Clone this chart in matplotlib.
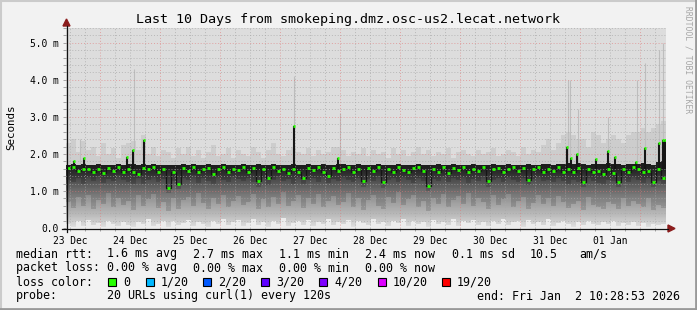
import datetime as dt

import matplotlib
matplotlib.use('Agg')
import matplotlib.pyplot as plt
import matplotlib.dates as mdates
import numpy as np
from matplotlib.colors import LinearSegmentedColormap
from matplotlib.patches import Rectangle, Polygon
from matplotlib.ticker import MultipleLocator, FuncFormatter, NullFormatter

plt.rcParams['font.family'] = 'DejaVu Sans Mono'

# smoke data, one value per 2 hour bucket starting Dec 23 10:28:53 (ms)
start = dt.datetime(2025, 12, 23, 10, 28, 53)
bucket_hours = 2

median = [1.62, 1.64, 1.55, 1.58, 1.58, 1.52, 1.60, 1.48, 1.63, 1.55, 1.66, 1.50,
          1.60, 1.52, 1.45, 1.62, 1.58, 1.64, 1.52, 1.60, 1.08, 1.50, 1.20, 1.62,
          1.55, 1.66, 1.50, 1.60, 1.63, 1.47, 1.58, 1.66, 1.52, 1.60, 1.56, 1.64,
          1.50, 1.62, 1.27, 1.58, 1.35, 1.64, 1.55, 1.60, 1.48, 1.60, 1.52, 1.35,
          1.62, 1.56, 1.65, 1.50, 1.40, 1.62, 1.55, 1.58, 1.66, 1.52, 1.60, 1.27,
          1.63, 1.55, 1.66, 1.24, 1.60, 1.52, 1.64, 1.57, 1.50, 1.62, 1.66, 1.55,
          1.13, 1.60, 1.52, 1.65, 1.48, 1.62, 1.57, 1.64, 1.50, 1.60, 1.55, 1.66,
          1.27, 1.58, 1.63, 1.50, 1.60, 1.66, 1.54, 1.62, 1.30, 1.58, 1.64, 1.52,
          1.60, 1.55, 1.65, 1.50, 1.60, 1.50, 1.62, 1.24, 1.60, 1.52, 1.55, 1.45,
          1.60, 1.48, 1.24, 1.60, 1.50, 1.64, 1.60, 1.52, 1.55, 1.24, 1.58, 1.35]

# top of the dark smoke
upper = [1.71, 1.72, 1.70, 1.72, 1.71, 1.70, 1.72, 1.70, 1.71, 1.70, 1.72, 1.71,
         1.72, 1.73, 1.70, 1.73, 1.71, 1.72, 1.70, 1.71, 1.70, 1.71, 1.70, 1.72,
         1.71, 1.72, 1.70, 1.71, 1.72, 1.70, 1.71, 1.72, 1.70, 1.71, 1.70, 1.72,
         1.71, 1.70, 1.72, 1.71, 1.70, 1.72, 1.71, 1.70, 1.71, 1.73, 1.70, 1.71,
         1.72, 1.70, 1.71, 1.72, 1.70, 1.71, 1.72, 1.72, 1.70, 1.71, 1.72, 1.70,
         1.71, 1.70, 1.72, 1.71, 1.70, 1.71, 1.72, 1.70, 1.71, 1.70, 1.72, 1.71,
         1.70, 1.71, 1.72, 1.70, 1.71, 1.72, 1.70, 1.71, 1.70, 1.72, 1.71, 1.70,
         1.71, 1.72, 1.70, 1.71, 1.72, 1.70, 1.71, 1.70, 1.72, 1.71, 1.70, 1.72,
         1.72, 1.71, 1.73, 1.72, 1.76, 1.74, 1.75, 1.72, 1.71, 1.73, 1.74, 1.72,
         1.75, 1.74, 1.72, 1.71, 1.73, 1.72, 1.74, 1.76, 1.72, 1.71, 1.78, 1.80]

# bottom of the dark smoke
dark_low = [1.30, 1.25, 1.35, 1.20, 1.38, 1.28, 1.40, 1.22, 1.33, 1.26, 1.42, 1.30,
            1.24, 1.18, 1.35, 1.20, 1.30, 1.40, 1.25, 1.33, 0.95, 1.28, 1.05, 1.36,
            1.30, 1.42, 1.22, 1.35, 1.28, 1.20, 1.38, 1.30, 1.25, 1.40, 1.32, 1.27,
            1.35, 1.24, 1.10, 1.36, 1.15, 1.30, 1.40, 1.26, 1.33, 1.20, 1.38, 1.18,
            1.30, 1.36, 1.25, 1.40, 1.22, 1.32, 1.28, 1.38, 1.30, 1.24, 1.35, 1.10,
            1.33, 1.27, 1.40, 1.08, 1.30, 1.36, 1.25, 1.38, 1.30, 1.22, 1.35, 1.28,
            1.00, 1.32, 1.26, 1.40, 1.24, 1.35, 1.30, 1.38, 1.22, 1.33, 1.28, 1.40,
            1.12, 1.30, 1.36, 1.25, 1.38, 1.30, 1.24, 1.35, 1.15, 1.32, 1.40, 1.27,
            1.30, 1.24, 1.36, 1.28, 1.20, 1.30, 1.25, 1.10, 1.35, 1.28, 1.22, 1.18,
            1.30, 1.26, 1.10, 1.34, 1.25, 1.38, 1.30, 1.22, 1.35, 1.12, 1.28, 1.20]

# bottom of the mid grey smoke
mid_low = [0.70, 0.55, 0.85, 0.60, 0.90, 0.50, 0.75, 0.65, 0.95, 0.58, 0.80, 0.62,
           0.72, 0.48, 0.88, 0.60, 0.78, 0.92, 0.55, 0.70, 0.45, 0.82, 0.50, 0.75,
           0.85, 0.60, 0.95, 0.68, 0.52, 0.80, 0.66, 0.90, 0.58, 0.74, 0.86, 0.62,
           0.70, 0.92, 0.50, 0.78, 0.56, 0.84, 0.64, 0.96, 0.60, 0.72, 0.88, 0.54,
           0.80, 0.66, 0.92, 0.58, 0.74, 0.86, 0.62, 0.70, 0.94, 0.56, 0.82, 0.48,
           0.76, 0.90, 0.60, 0.50, 0.84, 0.68, 0.96, 0.62, 0.78, 0.88, 0.56, 0.72,
           0.45, 0.82, 0.64, 0.92, 0.58, 0.76, 0.86, 0.66, 0.94, 0.60, 0.80, 0.70,
           0.52, 0.88, 0.62, 0.78, 0.92, 0.58, 0.74, 0.84, 0.50, 0.68, 0.90, 0.64,
           0.80, 0.60, 0.86, 0.70, 0.55, 0.66, 0.72, 0.48, 0.84, 0.62, 0.58, 0.52,
           0.70, 0.64, 0.50, 0.80, 0.60, 0.74, 0.66, 0.56, 0.82, 0.48, 0.62, 0.55]

# min ping
low = [0.10, 0.04, 0.18, 0.06, 0.22, 0.08, 0.14, 0.03, 0.20, 0.12, 0.05, 0.16,
       0.08, 0.02, 0.15, 0.10, 0.24, 0.06, 0.12, 0.18, 0.04, 0.20, 0.09, 0.14,
       0.22, 0.06, 0.17, 0.10, 0.03, 0.19, 0.12, 0.25, 0.07, 0.15, 0.21, 0.05,
       0.13, 0.23, 0.08, 0.16, 0.04, 0.20, 0.11, 0.26, 0.06, 0.14, 0.18, 0.09,
       0.21, 0.05, 0.17, 0.12, 0.24, 0.07, 0.15, 0.10, 0.22, 0.04, 0.19, 0.13,
       0.08, 0.25, 0.11, 0.16, 0.05, 0.20, 0.14, 0.23, 0.06, 0.18, 0.10, 0.15,
       0.03, 0.21, 0.12, 0.17, 0.08, 0.24, 0.06, 0.19, 0.13, 0.22, 0.09, 0.16,
       0.05, 0.20, 0.11, 0.25, 0.07, 0.15, 0.18, 0.04, 0.21, 0.12, 0.17, 0.09,
       0.23, 0.06, 0.14, 0.19, 0.10, 0.04, 0.16, 0.08, 0.20, 0.12, 0.07, 0.15,
       0.11, 0.18, 0.05, 0.13, 0.09, 0.17, 0.06, 0.14, 0.03, 0.10, 0.08, 0.12]

# max ping (haze above the median)
top = [2.30, 2.40, 2.05, 2.35, 2.10, 2.20, 1.95, 2.30, 2.00, 2.15, 1.90, 2.25,
       2.30, 2.35, 2.10, 2.50, 2.00, 2.20, 1.95, 2.10, 2.05, 1.90, 2.15, 2.00,
       2.20, 1.95, 2.10, 1.90, 2.05, 2.25, 1.95, 2.00, 2.15, 1.90, 2.10, 2.00,
       1.95, 2.20, 2.05, 1.90, 2.10, 2.30, 2.00, 1.95, 2.10, 2.20, 2.05, 2.00,
       2.15, 1.95, 2.10, 2.00, 2.05, 2.20, 2.20, 2.10, 1.95, 2.05, 2.00, 2.15,
       1.95, 2.10, 2.00, 2.05, 1.90, 2.15, 2.00, 2.10, 1.95, 2.05, 2.20, 2.00,
       2.10, 1.95, 2.05, 2.00, 2.15, 1.90, 2.05, 2.10, 2.00, 1.95, 2.10, 2.00,
       2.05, 2.15, 1.95, 2.00, 2.10, 2.05, 1.95, 2.20, 2.00, 2.10, 2.05, 2.25,
       2.40, 2.10, 2.30, 2.50, 2.60, 2.50, 2.40, 2.40, 2.20, 2.60, 2.50, 2.30,
       2.40, 2.50, 2.40, 2.30, 2.50, 2.60, 2.60, 2.70, 2.60, 2.70, 2.80, 2.90]

# short median spikes (dark, green on top)
spike_times = ['2025-12-23 13:40', '2025-12-23 17:40', '2025-12-24 10:50', '2025-12-24 13:15',
               '2025-12-24 17:40', '2025-12-27 05:40', '2025-12-27 23:15', '2025-12-31 18:50',
               '2025-12-31 20:30', '2025-12-31 22:55', '2026-01-01 06:30', '2026-01-01 11:15',
               '2026-01-01 14:05', '2026-01-01 22:30', '2026-01-02 02:05', '2026-01-02 07:40',
               '2026-01-02 09:15', '2026-01-02 10:05']
spike_peaks = [1.80, 1.90, 1.92, 2.10, 2.37, 2.75, 1.90, 2.20, 1.90, 2.00, 1.87, 2.08,
               1.92, 1.78, 2.16, 2.29, 2.37, 2.37]

# thin max ping spikes (light grey)
max_times = ['2025-12-23 16:05', '2025-12-24 13:30', '2025-12-27 05:40', '2025-12-28 00:05',
             '2025-12-31 19:15', '2025-12-31 20:05', '2025-12-31 23:15', '2026-01-01 11:15',
             '2026-01-01 22:50', '2026-01-02 02:05', '2026-01-02 07:40', '2026-01-02 09:15']
max_peaks = [2.40, 4.30, 4.10, 3.10, 4.00, 4.00, 3.20, 3.00, 4.00, 4.45, 4.80, 5.00]

title = 'Last 10 Days from smokeping.dmz.osc-us2.lecat.network'
rtt_parts = ['1.6 ms avg', '2.7 ms max', '1.1 ms min', '2.4 ms now', '0.1 ms sd', '10.5', 'am/s']
loss_parts = ['0.00 % avg', '0.00 % max', '0.00 % min', '0.00 % now']
loss_labels = ['0', '1/20', '2/20', '3/20', '4/20', '10/20', '19/20']
loss_colors = ['#26ff00', '#00b8ff', '#0059ff', '#5e00ff', '#7e00ff', '#dd00ff', '#ff0000']
probe_text = '20 URLs using curl(1) every 120s'
end_text = 'end: Fri Jan  2 10:28:53 2026'

W, H = 697, 310
fig = plt.figure(figsize=(W / 100, H / 100), dpi=100, facecolor='#f2f2f2')
ax = fig.add_axes([66 / W, 82 / H, 600 / W, 200 / H])
ax.set_facecolor('#dddddd')

edges = mdates.date2num([start + dt.timedelta(hours=bucket_hours * i) for i in range(len(median) + 1)])
med = np.array(median)
ymax = 5.4
col_w = edges[1] - edges[0]

# smoke layers
ax.stairs(low, edges, baseline=0, fill=True, color='#ececec', lw=0, zorder=1)
ax.stairs(top, edges, baseline=low, fill=True, color='#cdcdcd', lw=0, zorder=1.05)
mt = mdates.datestr2num(max_times)
ax.vlines(mt, 1.7, max_peaks, color='#bdbdbd', lw=0.8, zorder=1.07)

smoke = ax.stairs(upper, edges, baseline=low, fill=True, facecolor='none', edgecolor='none', zorder=1.1)
cmap = LinearSegmentedColormap.from_list('smoke', [
    (0.0, '#e0e0e0'), (0.3 / ymax, '#bebebe'), (0.8 / ymax, '#959595'),
    (1.2 / ymax, '#666666'), (1.45 / ymax, '#434343'), (1.65 / ymax, '#2a2a2a'),
    (1.0, '#1e1e1e')])
grad = np.linspace(0, ymax, 300).reshape(-1, 1)
im = ax.imshow(grad, extent=[edges[0], edges[-1], 0, ymax], origin='lower', aspect='auto',
               cmap=cmap, vmin=0, vmax=ymax, interpolation='bilinear', zorder=1.2)
im.set_clip_path(smoke)
ax.stairs(dark_low, edges, baseline=mid_low, fill=True, color='black', alpha=0.14, lw=0, zorder=1.3)
ax.stairs(upper, edges, baseline=dark_low, fill=True, color='black', alpha=0.28, lw=0, zorder=1.4)

# median line
ax.stairs(median, edges, baseline=None, color='#151515', lw=0.9, zorder=1.5)
ax.hlines(med, edges[:-1] + 0.2 * col_w, edges[1:] - 0.2 * col_w, color='#26ff00', lw=2.0, zorder=1.6)

# median spikes
st = mdates.datestr2num(spike_times)
ax.vlines(st, 1.6, spike_peaks, color='#161616', lw=1.5, zorder=1.55)
ax.hlines(spike_peaks, st - 0.25 * col_w, st + 0.25 * col_w, color='#26ff00', lw=2.0, zorder=1.6)

ax.set_xlim(edges[0], edges[-1])
ax.set_ylim(0, ymax)

# axes / grid
ax.xaxis.set_major_locator(mdates.DayLocator())
ax.xaxis.set_minor_locator(mdates.HourLocator(byhour=[0, 6, 12, 18]))
ax.xaxis.set_major_formatter(NullFormatter())
ax.xaxis.set_minor_formatter(FuncFormatter(
    lambda v, pos: mdates.num2date(v).strftime('%d %b') if mdates.num2date(v).hour == 12 else ''))
ax.yaxis.set_major_locator(MultipleLocator(1))
ax.yaxis.set_minor_locator(MultipleLocator(0.2))
ax.yaxis.set_major_formatter(FuncFormatter(lambda v, pos: '0.0' if v == 0 else f'{v:.1f} m'))
ax.grid(which='minor', color='#a8a8a8', linestyle=(0, (1, 2)), lw=0.7, alpha=0.7)
ax.grid(which='major', color='#e07878', linestyle=(0, (1, 2)), lw=0.7, alpha=0.6)
ax.tick_params(which='both', length=2, width=0.6, color='#999999', labelsize=6.9, pad=3)
ax.tick_params(axis='x', which='minor', pad=4)
for s in ax.spines.values():
    s.set_visible(False)

# overlay for frame, axis arrows and legend text
ov = fig.add_axes([0, 0, 1, 1])
ov.set_xlim(0, W)
ov.set_ylim(H, 0)
ov.axis('off')

ov.plot([0, W, W], [0.8, 0.8, 0.8], color='#cbcbcb', lw=1.5)
ov.plot([0.8, 0.8], [0, H], color='#cbcbcb', lw=1.5)
ov.plot([W - 1, W - 1], [0, H], color='#999999', lw=2)
ov.plot([0, W], [H - 1, H - 1], color='#999999', lw=2)

ov.plot([62, 668], [228.5, 228.5], color='#111111', lw=0.9)
ov.plot([66.5, 66.5], [232, 26], color='#111111', lw=0.9)
ov.add_patch(Polygon([[668, 225], [675, 228.5], [668, 232]], closed=True, color='#8b1c1c'))
ov.add_patch(Polygon([[63, 26], [66.5, 19], [70, 26]], closed=True, color='#8b1c1c'))

ov.text(348, 19, title, ha='center', va='center', fontsize=9.6)
ov.text(11, 127, 'Seconds', ha='center', va='center', rotation=90, fontsize=7.8)
ov.text(688, 60, 'RRDTOOL / TOBI OETIKER', ha='center', va='center', rotation=270,
        fontsize=5.8, color='#a6a6a6')

fs = 8.4
ov.text(16, 254, 'median rtt:', ha='left', va='center', fontsize=fs)
for txt, x in zip(rtt_parts, [107, 193, 279, 365, 452, 530, 579]):
    ov.text(x, 254, txt, ha='left', va='center', fontsize=fs)
ov.text(16, 268, 'packet loss:', ha='left', va='center', fontsize=fs)
for txt, x in zip(loss_parts, [107, 193, 279, 365]):
    ov.text(x, 268, txt, ha='left', va='center', fontsize=fs)
ov.text(16, 282, 'loss color:', ha='left', va='center', fontsize=fs)
for lbl, col, x in zip(loss_labels, loss_colors, [108, 146, 203, 261, 319, 378, 442]):
    ov.add_patch(Rectangle((x, 278), 8, 8, facecolor=col, edgecolor='black', lw=0.8))
    ov.text(x + 15, 282, lbl, ha='left', va='center', fontsize=fs)
ov.text(16, 296, 'probe:', ha='left', va='center', fontsize=fs)
ov.text(107, 296, probe_text, ha='left', va='center', fontsize=fs)
ov.text(680, 296, end_text, ha='right', va='center', fontsize=fs)

fig.savefig('out.png', dpi=100, facecolor=fig.get_facecolor())
